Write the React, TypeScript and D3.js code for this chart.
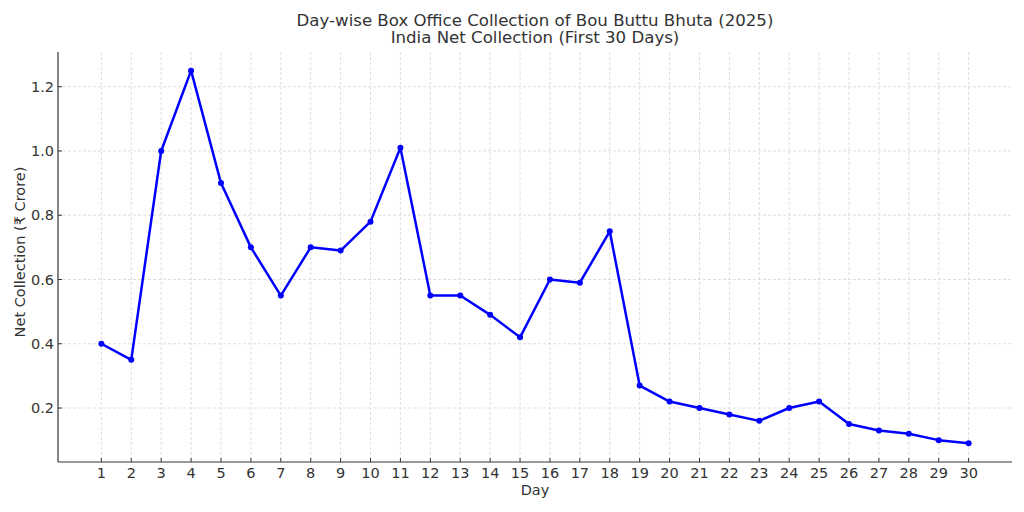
import React from "react"
import * as d3 from "d3"

const days = d3.range(1, 31)
const collection = [
  0.4, 0.35, 1.0, 1.25, 0.9, 0.7, 0.55, 0.7, 0.69, 0.78,
  1.01, 0.55, 0.55, 0.49, 0.42, 0.6, 0.59, 0.75, 0.27, 0.22,
  0.2, 0.18, 0.16, 0.2, 0.22, 0.15, 0.13, 0.12, 0.1, 0.09,
]
const yTicks = [0.2, 0.4, 0.6, 0.8, 1.0, 1.2]

const width = 1024
const height = 512
const margin = { top: 52, right: 12, bottom: 50, left: 58 }
const font = "DejaVu Sans, sans-serif"
const ink = "#333"

const App: React.FC = () => {
  const innerW = width - margin.left - margin.right
  const innerH = height - margin.top - margin.bottom

  const x = d3.scaleLinear().domain([-0.45, 31.45]).range([0, innerW])
  const y = d3.scaleLinear().domain([0.032, 1.308]).range([innerH, 0])

  const data = days.map((d, i) => ({ day: d, value: collection[i] }))
  const line = d3
    .line<{ day: number; value: number }>()
    .x((d) => x(d.day))
    .y((d) => y(d.value))

  return (
    <svg
      width={width}
      height={height}
      style={{ position: "absolute", left: 0, top: 0, background: "#fff" }}
      fontFamily={font}
    >
      <text x={535} y={26} textAnchor="middle" fontSize={16.6} fill={ink}>
        Day-wise Box Office Collection of Bou Buttu Bhuta (2025)
      </text>
      <text x={535} y={43} textAnchor="middle" fontSize={16.6} fill={ink}>
        India Net Collection (First 30 Days)
      </text>

      <g transform={`translate(${margin.left},${margin.top})`}>
        {/* grid */}
        {days.map((d) => (
          <line
            key={`gx${d}`}
            x1={x(d)}
            x2={x(d)}
            y1={0}
            y2={innerH}
            stroke="#d6d6d6"
            strokeWidth={0.8}
            strokeDasharray="3,2"
          />
        ))}
        {yTicks.map((t) => (
          <line
            key={`gy${t}`}
            x1={0}
            x2={innerW}
            y1={y(t)}
            y2={y(t)}
            stroke="#d6d6d6"
            strokeWidth={0.8}
            strokeDasharray="3,2"
          />
        ))}

        {/* axes */}
        <line x1={0} x2={0} y1={0} y2={innerH} stroke={ink} strokeWidth={1.2} />
        <line x1={0} x2={innerW} y1={innerH} y2={innerH} stroke={ink} strokeWidth={1.2} />

        {days.map((d) => (
          <g key={`tx${d}`} transform={`translate(${x(d)},${innerH})`}>
            <line y1={0} y2={-4} stroke={ink} strokeWidth={1} />
            <text y={15.5} textAnchor="middle" fontSize={14.5} fill={ink}>
              {d}
            </text>
          </g>
        ))}
        {yTicks.map((t) => (
          <g key={`ty${t}`} transform={`translate(0,${y(t)})`}>
            <line x1={0} x2={4} stroke={ink} strokeWidth={1} />
            <text x={-4} dy="0.36em" textAnchor="end" fontSize={14.5} fill={ink}>
              {t.toFixed(1)}
            </text>
          </g>
        ))}

        <text x={innerW / 2} y={innerH + 33} textAnchor="middle" fontSize={14.5} fill={ink}>
          Day
        </text>
        <text
          transform={`translate(${-33},${200}) rotate(-90)`}
          textAnchor="middle"
          fontSize={14.5}
          fill={ink}
        >
          Net Collection (₹ Crore)
        </text>

        {/* series */}
        <path d={line(data) ?? ""} fill="none" stroke="#0000ff" strokeWidth={2.5} strokeLinejoin="round" />
        {data.map((d) => (
          <circle key={`p${d.day}`} cx={x(d.day)} cy={y(d.value)} r={3} fill="#0000ff" />
        ))}
      </g>
    </svg>
  )
}

export default App
